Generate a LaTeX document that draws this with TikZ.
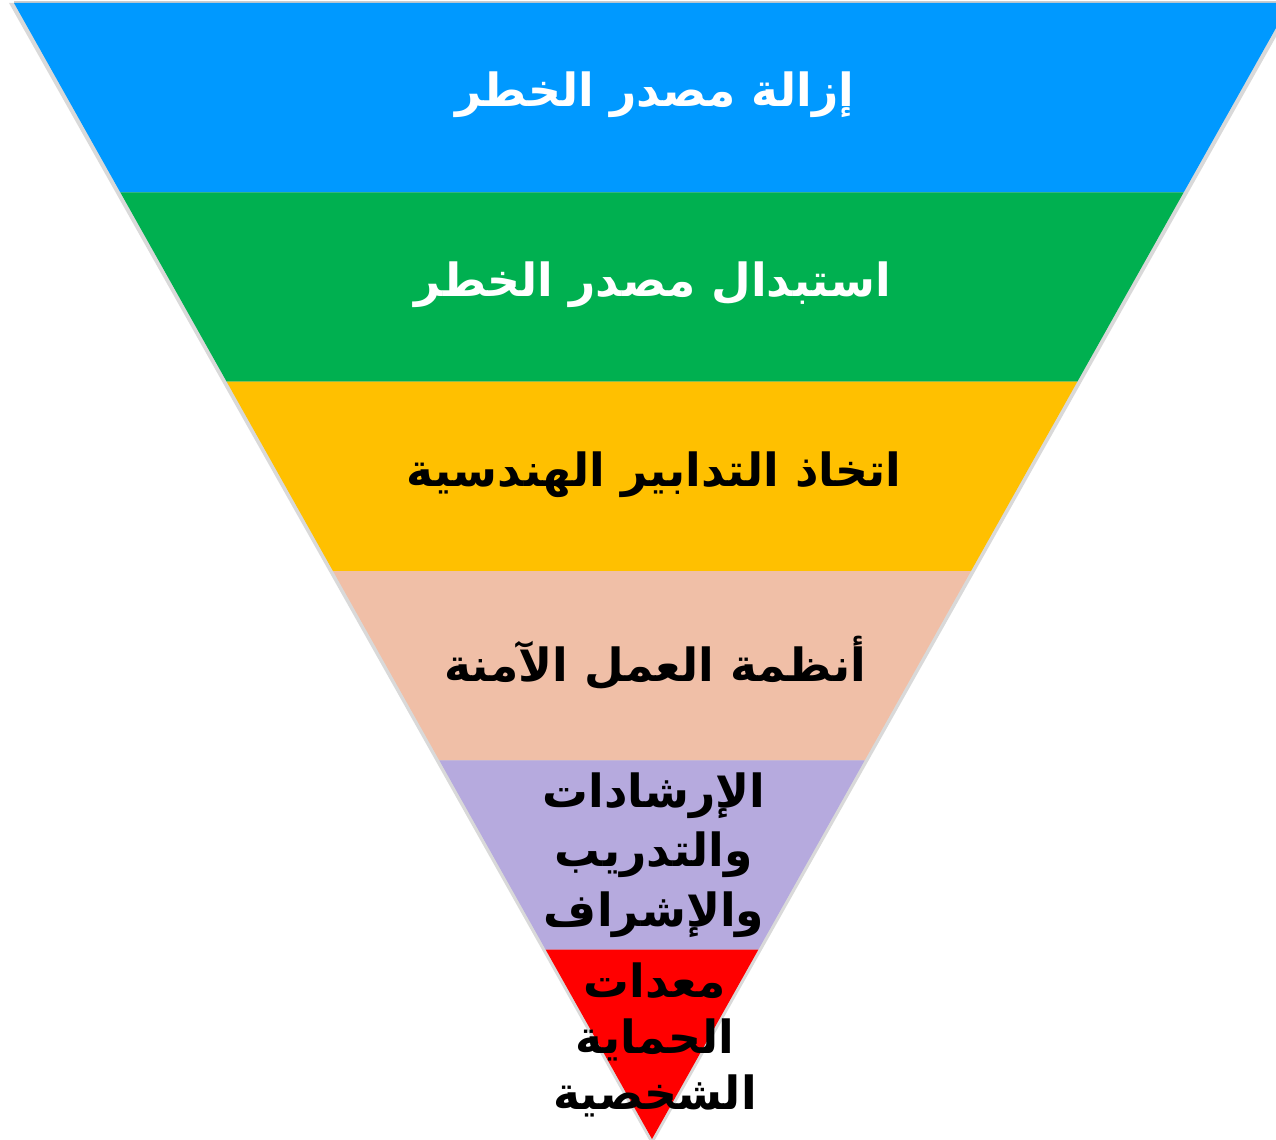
\documentclass[tikz,border=0pt]{standalone}
\usepackage{fontspec}
\usepackage{tikz}
\usetikzlibrary{calc}
\usetikzlibrary{positioning}
\newfontfamily\arabicfont[Script=Arabic]{DejaVu Sans}
\TeXXeTstate=1
\definecolor{bandblue}{RGB}{0,153,255}
\definecolor{bandgreen}{RGB}{0,176,80}
\definecolor{bandgold}{RGB}{255,192,0}
\definecolor{bandsalmon}{RGB}{240,191,167}
\definecolor{bandlilac}{RGB}{182,170,222}
\definecolor{bandred}{RGB}{255,0,0}
\tikzstyle{lvl} = [inner sep=0pt, align=center, font=\arabicfont\bfseries\fontsize{13}{17}\selectfont]
\tikzstyle{shade} = [fill=black, opacity=0.15]

\begin{document}
\begin{tikzpicture}
\useasboundingbox (0, 0) rectangle (12.76, 11.39);
\clip (0, 0) rectangle (12.76, 11.39);
\fill [shade] (0.09, 11.36) -- (12.95, 11.36) -- (6.52, -0.06) -- cycle;
\draw [gray!40, line width=0.3pt] (0.14, 11.37) -- (12.76, 11.37);
\fill [bandblue] (0.14, 11.36) -- (12.90, 11.36) -- (11.837, 9.467) -- (1.203, 9.467) -- cycle;
\fill [bandgreen] (1.203, 9.467) -- (11.837, 9.467) -- (10.773, 7.573) -- (2.267, 7.573) -- cycle;
\fill [bandgold] (2.267, 7.573) -- (10.773, 7.573) -- (9.710, 5.680) -- (3.330, 5.680) -- cycle;
\fill [bandsalmon] (3.330, 5.680) -- (9.710, 5.680) -- (8.647, 3.787) -- (4.393, 3.787) -- cycle;
\fill [bandlilac] (4.393, 3.787) -- (8.647, 3.787) -- (7.583, 1.893) -- (5.457, 1.893) -- cycle;
\fill [bandred] (5.457, 1.893) -- (7.583, 1.893) -- (6.52, 0) -- cycle;
\node [lvl, text=white] (L1) at (6.55, 10.44) {\beginR إزالة مصدر الخطر\endR};
\node [lvl, text=white] (L2) at (6.53, 8.54) {\beginR استبدال مصدر الخطر\endR};
\node [lvl, text=black] (L3) at (6.54, 6.64) {\beginR اتخاذ التدابير الهندسية\endR};
\node [lvl, text=black] (L4) at (6.55, 4.76) {\beginR أنظمة العمل الآمنة\endR};
\node [lvl, text=black] (L5) at (6.54, 2.84) {\beginR الإرشادات\endR\\ \beginR والتدريب\endR\\ \beginR والإشراف\endR};
\node [lvl, text=black, font=\arabicfont\bfseries\fontsize{13}{16}\selectfont] (L6) at (6.55, 0.99) {\beginR معدات\endR\\ \beginR الحماية\endR\\ \beginR الشخصية\endR};
\end{tikzpicture}
\end{document}
